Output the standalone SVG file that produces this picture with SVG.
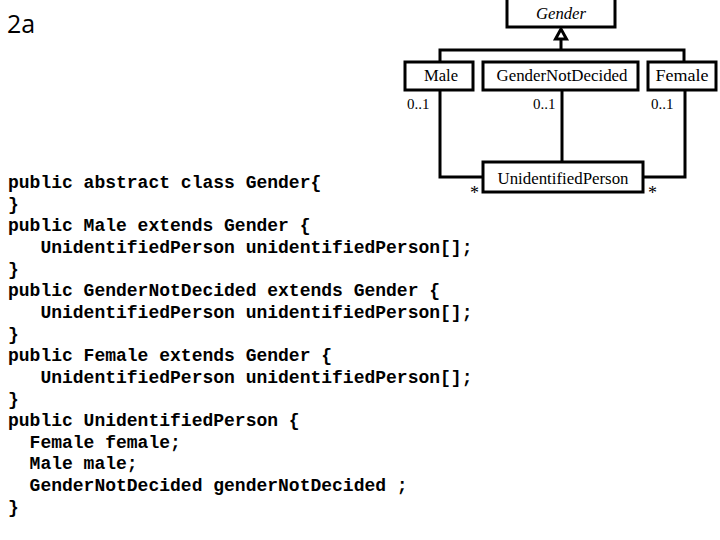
<svg xmlns="http://www.w3.org/2000/svg" width="720" height="540" viewBox="0 0 720 540">
<style>
.box{fill:#fff;stroke:#000;stroke-width:3}
.ln{fill:none;stroke:#000;stroke-width:3}
.lbl{font-family:"Liberation Serif","Times New Roman",serif;font-size:16px;fill:#000;text-anchor:middle}
.mult{font-family:"Liberation Serif","Times New Roman",serif;font-size:15px;fill:#000}
.star{font-family:"Liberation Serif","Times New Roman",serif;font-size:18px;fill:#000}
.code{font-family:"Liberation Mono","Courier New",monospace;font-size:18px;font-weight:bold;fill:#000;white-space:pre}
</style>
<rect width="720" height="540" fill="#fff"/>
<text x="7" y="33" font-family="'Open Sans','Liberation Sans',sans-serif" font-size="25" fill="#000">2a</text>

<g id="connectors">
  <polyline class="ln" points="561,40 561,50"/>
  <polyline class="ln" points="440,62 440,50 684,50 684,62"/>
  <polygon points="561,29 555.5,39 566.5,39" fill="#fff" stroke="#000" stroke-width="3"/>
  <polyline class="ln" points="440,90 440,177 483,177"/>
  <polyline class="ln" points="562,90 562,162"/>
  <polyline class="ln" points="685,90 685,177 643,177"/>
  <text class="mult" x="407" y="109">0..1</text>
  <text class="mult" x="533" y="109">0..1</text>
  <text class="mult" x="651" y="109">0..1</text>
  <text class="star" x="470" y="199">*</text>
  <text class="star" x="648" y="199">*</text>
</g>

<g id="gender">
  <rect class="box" x="507" y="-5" width="108" height="32"/>
  <text class="lbl" x="561" y="19" font-style="italic" textLength="50" lengthAdjust="spacingAndGlyphs">Gender</text>
</g>
<g id="male">
  <rect class="box" x="405" y="62" width="68" height="28"/>
  <text class="lbl" x="441" y="81" textLength="34" lengthAdjust="spacingAndGlyphs">Male</text>
</g>
<g id="gendernotdecided">
  <rect class="box" x="483" y="62" width="155" height="28"/>
  <text class="lbl" x="562" y="81" textLength="131" lengthAdjust="spacingAndGlyphs">GenderNotDecided</text>
</g>
<g id="female">
  <rect class="box" x="648" y="62" width="68" height="28"/>
  <text class="lbl" x="682" y="81" textLength="53" lengthAdjust="spacingAndGlyphs">Female</text>
</g>
<g id="unidentifiedperson">
  <rect class="box" x="483" y="162" width="160" height="30"/>
  <text class="lbl" x="563" y="184" textLength="131" lengthAdjust="spacingAndGlyphs">UnidentifiedPerson</text>
</g>

<g id="code">
  <text class="code" x="8" y="188">public abstract class Gender{</text>
  <text class="code" x="8" y="209.6">}</text>
  <text class="code" x="8" y="231.3">public Male extends Gender {</text>
  <text class="code" x="8" y="252.9">   UnidentifiedPerson unidentifiedPerson[];</text>
  <text class="code" x="8" y="274.6">}</text>
  <text class="code" x="8" y="296.2">public GenderNotDecided extends Gender {</text>
  <text class="code" x="8" y="317.9">   UnidentifiedPerson unidentifiedPerson[];</text>
  <text class="code" x="8" y="339.5">}</text>
  <text class="code" x="8" y="361.2">public Female extends Gender {</text>
  <text class="code" x="8" y="382.8">   UnidentifiedPerson unidentifiedPerson[];</text>
  <text class="code" x="8" y="404.5">}</text>
  <text class="code" x="8" y="426.1">public UnidentifiedPerson {</text>
  <text class="code" x="8" y="447.8">  Female female;</text>
  <text class="code" x="8" y="469.4">  Male male;</text>
  <text class="code" x="8" y="491.1">  GenderNotDecided genderNotDecided ;</text>
  <text class="code" x="8" y="512.7">}</text>
</g>
</svg>
